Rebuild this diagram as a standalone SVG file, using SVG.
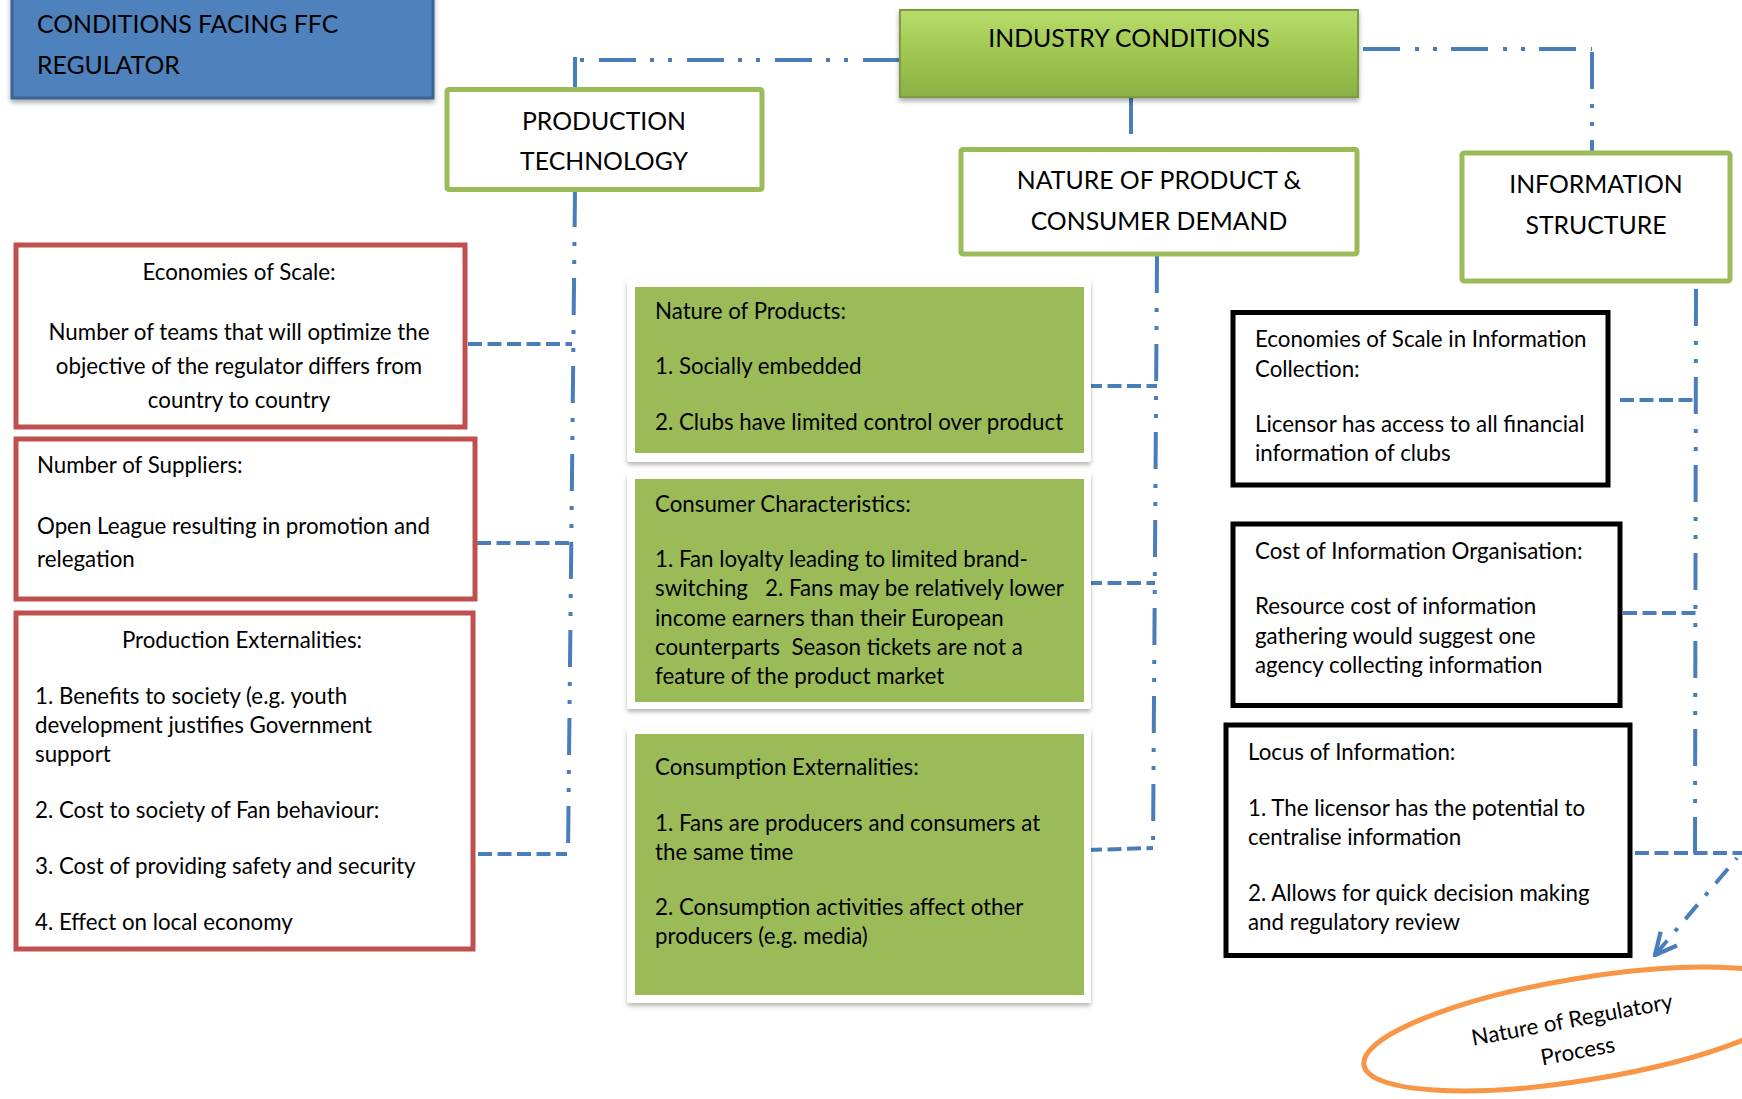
<svg xmlns="http://www.w3.org/2000/svg" width="1742" height="1099" viewBox="0 0 1742 1099">
  <defs>
    <linearGradient id="gIndustry" x1="0" y1="0" x2="0" y2="1">
      <stop offset="0" stop-color="#b9dc6b"/>
      <stop offset="0.5" stop-color="#9fc751"/>
      <stop offset="1" stop-color="#8cb045"/>
    </linearGradient>
    <filter id="shadow" x="-5%" y="-10%" width="110%" height="125%">
      <feDropShadow dx="0" dy="3" stdDeviation="2.5" flood-color="#000" flood-opacity="0.35"/>
    </filter>
    <filter id="softShadow" x="-5%" y="-5%" width="110%" height="115%">
      <feDropShadow dx="0" dy="3" stdDeviation="2" flood-color="#000" flood-opacity="0.28"/>
    </filter>
    <marker id="openArrow" markerUnits="userSpaceOnUse" markerWidth="30" markerHeight="30" viewBox="-2 -14 28 28" refX="0" refY="0" orient="auto">
      <path d="M20,-10 L0,0 L20,10" fill="none" stroke="#4a7ebb" stroke-width="4"/>
    </marker>
  </defs>
  <style>
    .t { font-family: Lato, "Open Sans", sans-serif; font-size: 22.3px; fill: #000; }
    .h { font-family: Lato, "Open Sans", sans-serif; font-size: 24.8px; fill: #000; }
    .mid { text-anchor: middle; }
    .head { fill: #fff; stroke: #9bbb59; stroke-width: 5; }
    .red { fill: #fff; stroke: #c0504d; stroke-width: 5; }
    .blk { fill: #fff; stroke: #000; stroke-width: 5; }
    .frame { fill: #fff; }
    .green { fill: #9bbb59; }
    .conn { fill: none; stroke: #4a7ebb; stroke-width: 4; stroke-linecap: butt; }
    .dd { stroke-dasharray: 37 15 4 14 4 14; }
    .dsh { stroke-dasharray: 14 5.5; }
    .dash-dot { stroke-dasharray: 19 12 4 12; }
  </style>

  <rect width="1742" height="1099" fill="#fff"/>

  <!-- connectors -->
  <g id="connectors">
    <path class="conn dd" d="M575 57 L575 93"/>
    <path class="conn dd" d="M900 60 L577 60"/>
    <path class="conn dd" d="M575 190 L568 854"/>
    <path class="conn dd" d="M1131 97 L1131 150"/>
    <path class="conn dd" d="M1363 49 L1592 49"/>
    <path class="conn dd" d="M1592 52 L1592 153"/>
    <path class="conn dd" d="M1157 256 L1153 849"/>
    <path class="conn dd" d="M1696 289 L1695 853"/>
    <path class="conn dsh" d="M468 344 L572 344"/>
    <path class="conn dsh" d="M477 543 L571 543"/>
    <path class="conn dsh" d="M478 854 L567 854"/>
    <path class="conn dsh" d="M1088 386 L1157 386"/>
    <path class="conn dsh" d="M1088 583 L1155 583"/>
    <path class="conn dsh" d="M1088 850 L1153 848"/>
    <path class="conn dsh" d="M1620 400 L1696 400"/>
    <path class="conn dsh" d="M1623 613 L1696 613"/>
    <path class="conn dsh" d="M1635 853 L1742 853"/>
    <path class="conn dash-dot" d="M1655 955 L1737 858" marker-start="url(#openArrow)"/>
  </g>

  <!-- title -->
  <g id="regulator">
    <rect x="12" y="-6" width="421" height="104" fill="#4f81bd" stroke="#3a6496" stroke-width="3" filter="url(#shadow)"/>
    <text class="h" x="37" y="33">CONDITIONS FACING FFC</text>
    <text class="h" x="37" y="74">REGULATOR</text>
  </g>

  <g id="industry">
    <rect x="900" y="10" width="458" height="87" fill="url(#gIndustry)" stroke="#7d9c40" stroke-width="2" filter="url(#shadow)"/>
    <text class="h mid" x="1129" y="47">INDUSTRY CONDITIONS</text>
  </g>

  <g id="production-technology">
    <rect class="head" x="447" y="89.5" width="315" height="100" rx="2"/>
    <text class="h mid" x="604" y="130">PRODUCTION</text>
    <text class="h mid" x="604" y="170">TECHNOLOGY</text>
  </g>

  <g id="product-demand">
    <rect class="head" x="961" y="149.5" width="396" height="104.5" rx="2"/>
    <text class="h mid" x="1159" y="189">NATURE OF PRODUCT &amp;</text>
    <text class="h mid" x="1159" y="230">CONSUMER DEMAND</text>
  </g>

  <g id="information-structure">
    <rect class="head" x="1462" y="153" width="268" height="128" rx="2"/>
    <text class="h mid" x="1596" y="193">INFORMATION</text>
    <text class="h mid" x="1596" y="234">STRUCTURE</text>
  </g>

  <!-- production technology details -->
  <g id="economies-of-scale">
    <rect class="red" x="16" y="245" width="449" height="182"/>
    <text class="t mid" x="239" y="280">Economies of Scale:</text>
    <text class="t mid" x="239" y="340">Number of teams that will optimize the</text>
    <text class="t mid" x="239" y="374">objective of the regulator differs from</text>
    <text class="t mid" x="239" y="408">country to country</text>
  </g>

  <g id="number-of-suppliers">
    <rect class="red" x="16" y="439" width="459" height="160"/>
    <text class="t" x="37" y="473">Number of Suppliers:</text>
    <text class="t" x="37" y="534">Open League resulting in promotion and</text>
    <text class="t" x="37" y="567">relegation</text>
  </g>

  <g id="production-externalities">
    <rect class="red" x="16" y="613" width="457" height="336"/>
    <text class="t mid" x="242" y="648">Production Externalities:</text>
    <text class="t" x="35" y="704">1. Benefits to society (e.g. youth</text>
    <text class="t" x="35" y="733">development justifies Government</text>
    <text class="t" x="35" y="762">support</text>
    <text class="t" x="35" y="818">2. Cost to society of Fan behaviour:</text>
    <text class="t" x="35" y="874">3. Cost of providing safety and security</text>
    <text class="t" x="35" y="930">4. Effect on local economy</text>
  </g>

  <!-- product and demand details -->
  <g id="nature-of-products">
    <rect class="frame" x="627" y="279" width="464" height="183" rx="3" filter="url(#softShadow)"/>
    <rect class="green" x="635" y="287" width="449" height="166"/>
    <text class="t" x="655" y="319">Nature of Products:</text>
    <text class="t" x="655" y="374">1. Socially embedded</text>
    <text class="t" x="655" y="430">2. Clubs have limited control over product</text>
  </g>

  <g id="consumer-characteristics">
    <rect class="frame" x="627" y="472" width="464" height="237" rx="3" filter="url(#softShadow)"/>
    <rect class="green" x="635" y="479" width="449" height="223"/>
    <text class="t" x="655" y="512">Consumer Characteristics:</text>
    <text class="t" x="655" y="567">1. Fan loyalty leading to limited brand-</text>
    <text class="t" x="655" y="596" xml:space="preserve">switching   2. Fans may be relatively lower</text>
    <text class="t" x="655" y="626">income earners than their European</text>
    <text class="t" x="655" y="655" xml:space="preserve">counterparts  Season tickets are not a</text>
    <text class="t" x="655" y="684">feature of the product market</text>
  </g>

  <g id="consumption-externalities">
    <rect class="frame" x="627" y="727" width="464" height="276" rx="3" filter="url(#softShadow)"/>
    <rect class="green" x="635" y="734" width="449" height="261"/>
    <text class="t" x="655" y="775">Consumption Externalities:</text>
    <text class="t" x="655" y="831">1. Fans are producers and consumers at</text>
    <text class="t" x="655" y="860">the same time</text>
    <text class="t" x="655" y="915">2. Consumption activities affect other</text>
    <text class="t" x="655" y="944">producers (e.g. media)</text>
  </g>

  <!-- information structure details -->
  <g id="information-scale">
    <rect class="blk" x="1233" y="312.5" width="375" height="172.5"/>
    <text class="t" x="1255" y="347">Economies of Scale in Information</text>
    <text class="t" x="1255" y="377">Collection:</text>
    <text class="t" x="1255" y="432">Licensor has access to all financial</text>
    <text class="t" x="1255" y="461">information of clubs</text>
  </g>

  <g id="information-cost">
    <rect class="blk" x="1233" y="524" width="387" height="181.5"/>
    <text class="t" x="1255" y="559">Cost of Information Organisation:</text>
    <text class="t" x="1255" y="614">Resource cost of information</text>
    <text class="t" x="1255" y="644">gathering would suggest one</text>
    <text class="t" x="1255" y="673">agency collecting information</text>
  </g>

  <g id="information-locus">
    <rect class="blk" x="1226" y="725" width="404" height="230.5"/>
    <text class="t" x="1248" y="760">Locus of Information:</text>
    <text class="t" x="1248" y="816">1. The licensor has the potential to</text>
    <text class="t" x="1248" y="845">centralise information</text>
    <text class="t" x="1248" y="901">2. Allows for quick decision making</text>
    <text class="t" x="1248" y="930">and regulatory review</text>
  </g>

  <!-- outcome -->
  <g id="regulatory-process">
    <ellipse cx="1584" cy="1029" rx="223" ry="51" transform="rotate(-9.3 1584 1029)" fill="none" stroke="#f79646" stroke-width="5"/>
    <g transform="translate(1575 1036) rotate(-10.5)">
      <text class="t mid" x="0" y="-9">Nature of Regulatory</text>
      <text class="t mid" x="0" y="23">Process</text>
    </g>
  </g>
</svg>
